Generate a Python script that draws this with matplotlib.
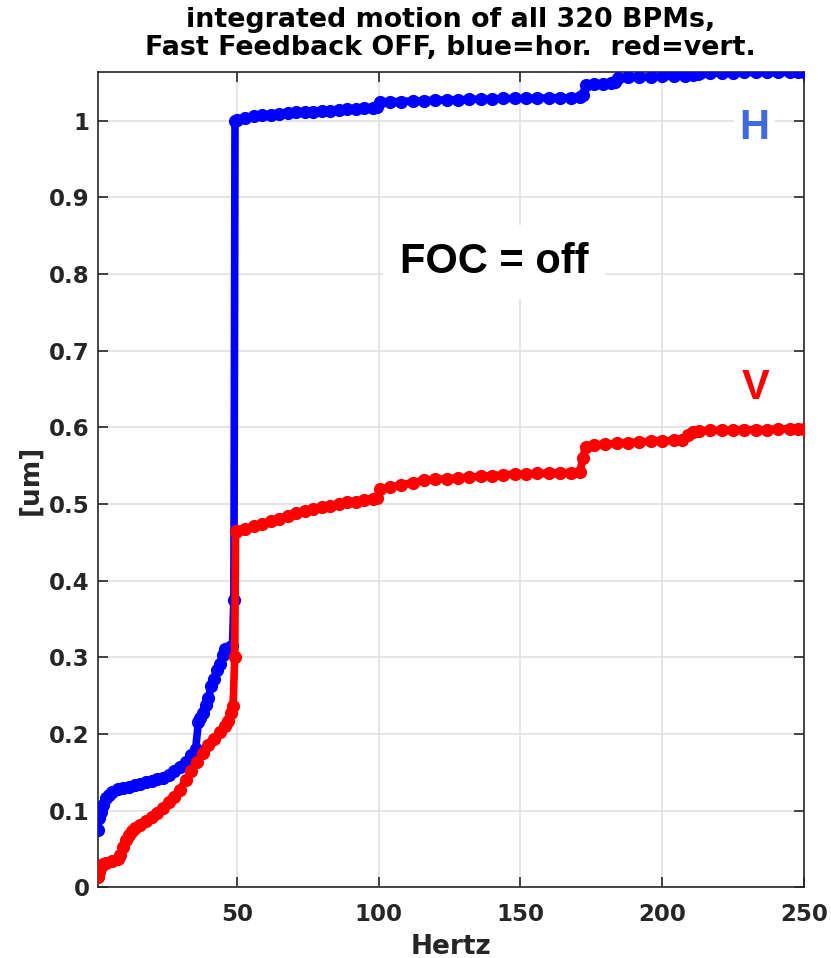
import matplotlib
matplotlib.use("Agg")
import matplotlib.pyplot as plt

# horizontal (H) integrated motion, um vs Hz
h_hz = [1, 1.5, 2, 3, 4, 5, 6, 8, 10, 12, 14, 16, 18, 20, 22, 24, 26, 28, 30, 32, 34, 35.5,
        36.5, 37, 38, 39, 40, 41, 42, 43, 44, 45, 46, 47.5, 48.5, 49, 49.4,
        50, 53, 56, 59, 62, 65, 68, 71, 74, 77, 80, 83, 86, 89, 92, 95, 98, 99.5,
        100.5, 104, 108, 112, 116, 120, 124, 128, 132, 136, 140, 144, 148, 152, 156, 160,
        164, 168, 171, 172, 173, 176, 179, 182, 183.5, 184.5, 188, 192, 196, 200, 204, 208,
        211, 212.5, 213.5, 217, 221, 225, 229, 233, 237, 241, 245, 248, 250]
h_um = [0.075, 0.090, 0.098, 0.108, 0.116, 0.121, 0.124, 0.128, 0.130, 0.131, 0.133, 0.135,
        0.137, 0.139, 0.141, 0.143, 0.147, 0.152, 0.157, 0.164, 0.172, 0.180,
        0.216, 0.221, 0.228, 0.238, 0.247, 0.262, 0.272, 0.283, 0.291, 0.303, 0.311, 0.313,
        0.315, 0.375, 1.000,
        1.001, 1.004, 1.006, 1.007, 1.008, 1.009, 1.010, 1.011, 1.011, 1.012, 1.013, 1.013,
        1.014, 1.015, 1.015, 1.016, 1.017, 1.018,
        1.024, 1.025, 1.025, 1.026, 1.026, 1.027, 1.027, 1.027, 1.028, 1.028, 1.028, 1.029,
        1.029, 1.029, 1.029, 1.030, 1.030, 1.030, 1.031, 1.034, 1.046, 1.048, 1.048, 1.049,
        1.051, 1.056, 1.057, 1.057, 1.057, 1.058, 1.058, 1.058, 1.059, 1.061, 1.062, 1.062,
        1.062, 1.062, 1.063, 1.063, 1.063, 1.063, 1.063, 1.063, 1.0635]

# vertical (V) integrated motion
v_hz = [1, 1.5, 2, 3, 4, 6, 8, 9, 10, 11, 12, 13, 14, 16, 18, 20, 22, 24, 26, 28, 30, 32,
        34, 36, 38, 40, 42, 44, 46, 47, 48, 48.7, 49.3, 49.6,
        50, 53, 56, 59, 62, 65, 68, 71, 74, 77, 80, 83, 86, 89, 92, 95, 98, 99.5,
        100.5, 104, 108, 112, 116, 120, 124, 128, 132, 136, 140, 144, 148, 152, 156, 160,
        164, 168, 171, 172, 173, 176, 180, 184, 188, 192, 196, 200, 204, 207, 209, 211, 213,
        217, 221, 225, 229, 233, 237, 241, 245, 248, 250]
v_um = [0.013, 0.020, 0.027, 0.031, 0.032, 0.034, 0.037, 0.042, 0.052, 0.062, 0.068, 0.073,
        0.077, 0.081, 0.086, 0.092, 0.097, 0.104, 0.111, 0.118, 0.127, 0.140,
        0.152, 0.164, 0.175, 0.185, 0.194, 0.203, 0.211, 0.217, 0.228, 0.236, 0.300, 0.465,
        0.465, 0.468, 0.471, 0.474, 0.478, 0.481, 0.485, 0.488, 0.491, 0.494, 0.496, 0.498,
        0.500, 0.502, 0.503, 0.505, 0.506, 0.508,
        0.519, 0.522, 0.525, 0.528, 0.531, 0.532, 0.533, 0.534, 0.535, 0.536, 0.537, 0.538,
        0.539, 0.539, 0.540, 0.540, 0.541, 0.541, 0.542, 0.560, 0.575, 0.577, 0.578, 0.579,
        0.580, 0.581, 0.582, 0.582, 0.583, 0.584, 0.590, 0.594, 0.595,
        0.596, 0.596, 0.597, 0.597, 0.597, 0.597, 0.598, 0.598, 0.598, 0.598]

xticks = [50, 100, 150, 200, 250]
yticks = [0, 0.1, 0.2, 0.3, 0.4, 0.5, 0.6, 0.7, 0.8, 0.9, 1]
DARK = "#262626"

plt.rcParams["font.family"] = "DejaVu Sans"
plt.rcParams["font.weight"] = "bold"

fig = plt.figure(figsize=(8.31, 9.58), dpi=100)
ax = fig.add_axes([0.1176, 0.0738, 0.8499, 0.851])

ax.plot(h_hz, h_um, "o-", color="#0000ff", lw=5.5, ms=9.5, mew=0, zorder=3)
ax.plot(v_hz, v_um, "o-", color="#ff0000", lw=5.5, ms=9.5, mew=0, zorder=4)

ax.set_xlim(min(h_hz), max(h_hz))
ax.set_ylim(0, max(h_um))
ax.set_xticks(xticks)
ax.set_yticks(yticks)
ax.set_yticklabels(["0"] + [f"{v:.1f}" for v in yticks[1:-1]] + ["1"])
ax.tick_params(direction="in", length=7, width=1.2, colors=DARK, labelsize=16.5,
               top=True, right=True)
ax.tick_params(axis="x", pad=11)
ax.tick_params(axis="y", pad=6)
for lab in ax.get_xticklabels() + ax.get_yticklabels():
    lab.set_fontweight("bold")
for s in ax.spines.values():
    s.set_color(DARK); s.set_linewidth(1.2)
ax.grid(color="#dedede", lw=1.1)
ax.set_axisbelow(True)

ax.set_xlabel("Hertz", fontsize=19, fontweight="bold", color=DARK, labelpad=6)
ax.set_ylabel("[um]", fontsize=19, fontweight="bold", color=DARK, labelpad=4)
ax.set_title("integrated motion of all 320 BPMs,\nFast Feedback OFF, blue=hor.  red=vert.",
             fontsize=19.4, fontweight="bold", color="black", pad=12, linespacing=1.12)

ax.text(0.561, 0.767, "FOC = off", transform=ax.transAxes, ha="center", va="center",
        fontsize=30, fontweight="bold", family="Liberation Sans", color="black", zorder=5,
        bbox=dict(facecolor="white", edgecolor="none", pad=12))
ax.text(0.93, 0.931, "H", transform=ax.transAxes, ha="center", va="center",
        fontsize=30, fontweight="bold", family="Liberation Sans", color="#4169e1", zorder=5,
        bbox=dict(facecolor="white", edgecolor="none", pad=4))
ax.text(0.932, 0.612, "V", transform=ax.transAxes, ha="center", va="center",
        fontsize=30, fontweight="bold", family="Liberation Sans", color="#ff0000", zorder=5)

fig.savefig("out.png", dpi=100)
